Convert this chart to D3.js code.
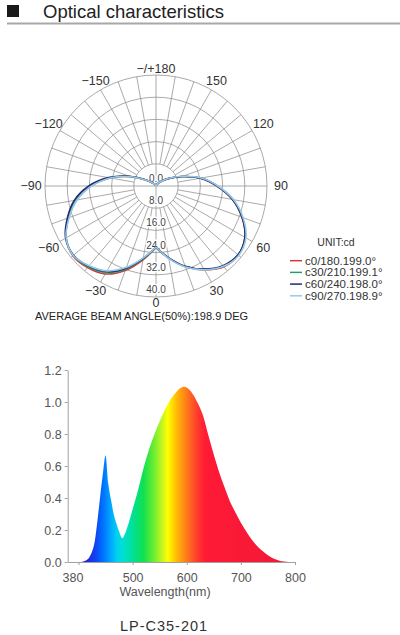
<!DOCTYPE html>
<html>
<head>
<meta charset="utf-8">
<script src="https://cdn.jsdelivr.net/npm/d3@7"></script>
<style>
  body { margin: 0; background: #fff; }
  svg { display: block; font-family: "Liberation Sans", Arial, sans-serif; }
</style>
</head>
<body>
<svg id="chart" width="400" height="635"></svg>
<script>
// ---- polar (light distribution) data, candela, angles -180..180 step 10
const angles = [-180, -170, -160, -150, -140, -130, -120, -110, -100, -90, -80, -70, -60, -50, -40, -30, -20, -10,
    0, 10, 20, 30, 40, 50, 60, 70, 80, 90, 100, 110, 120, 130, 140, 150, 160, 170, 180];

const c0 = [0, 0.05, 0.15, 0.4, 1, 2, 4.4, 9.8, 16.8, 23.4, 29.1, 33.5, 37.4, 39.1, 38.4, 36.6, 32.4, 27.0,
    22.2, 26.4, 31.0, 34.9, 38.0, 38.7, 37.0, 33.0, 28.0, 22.0, 16.3, 10.0, 5.5, 3, 1.5, 0.6, 0.2, 0.05, 0];
const c30 = [0, 0.05, 0.15, 0.4, 1, 2, 4.5, 10.0, 17.0, 23.6, 29.3, 33.6, 37.4, 38.9, 38.0, 36.0, 31.9, 26.7,
    22.1, 26.3, 30.9, 34.7, 37.7, 38.6, 37.1, 33.1, 28.1, 22.1, 16.4, 10.0, 5.5, 3, 1.5, 0.6, 0.2, 0.05, 0];
const c60 = [0, 0.05, 0.15, 0.4, 1, 2, 4.7, 10.3, 17.4, 24.2, 29.9, 34.0, 37.6, 38.8, 37.7, 35.6, 31.5, 26.5,
    22.0, 26.3, 30.8, 34.6, 37.5, 38.6, 37.0, 33.0, 28.0, 22.0, 16.3, 10.0, 5.5, 3, 1.5, 0.6, 0.2, 0.05, 0];
const c90 = [0, 0.05, 0.15, 0.4, 1, 2, 4.4, 9.8, 16.8, 23.2, 28.9, 33.3, 37.4, 38.9, 37.5, 35.3, 31.2, 26.3,
    22.0, 26.5, 31.1, 34.9, 37.8, 38.9, 37.4, 33.4, 28.4, 22.3, 16.6, 10.2, 5.6, 3, 1.5, 0.6, 0.2, 0.05, 0];

const seriesNames = ["c0/180.199.0°", "c30/210.199.1°", "c60/240.198.0°", "c90/270.198.9°"];
const seriesColors = ["#d63a3a", "#2e9a70", "#222a70", "#96c8e8"];
const seriesValues = [c0, c30, c60, c90];

const ringValues = [0, 8, 16, 24, 32, 40];
const angleLabels = [0, 30, 60, 90, 120, 150, 180, -150, -120, -90, -60, -30];

// ---- spectrum data
const wavelengths = [405, 410, 415, 420, 425, 430, 435, 440, 445, 450, 455, 460, 465, 470, 475, 481, 485, 490,
    500, 510, 520, 530, 540, 550, 560, 570, 580, 590, 595, 600, 610, 620, 630, 640, 650, 660, 670, 680, 690,
    700, 710, 720, 730, 740, 750, 760, 770, 780, 788];
const intensity = [0, 0.004, 0.012, 0.03, 0.065, 0.13, 0.26, 0.41, 0.55, 0.665, 0.49, 0.39, 0.30, 0.24, 0.19, 0.148, 0.17, 0.215,
    0.33, 0.45, 0.585, 0.70, 0.795, 0.88, 0.955, 1.015, 1.06, 1.09, 1.095, 1.09, 1.055, 0.995, 0.915, 0.79, 0.67, 0.56, 0.465, 0.377, 0.31,
    0.245, 0.19, 0.14, 0.10, 0.068, 0.042, 0.022, 0.01, 0.003, 0];
const yTicks = [0, 0.2, 0.4, 0.6, 0.8, 1.0, 1.2];
const xTicks = [400, 500, 600, 700, 800];
const xTickLabels = ["380", "500", "600", "700", "800"];

// spectral colour stops for the fill
const stopWl = [410, 430, 445, 460, 472, 485, 500, 520, 540, 555, 565, 578, 590, 605, 620, 635, 800];
const stopColors = ["#2a1fd0", "#1040f0", "#0070ff", "#00a8ff", "#00d4f0", "#00e0c8", "#00e098", "#10e050",
    "#70ee30", "#c8f520", "#ffff00", "#ffc800", "#ff9a10", "#ff6a20", "#ff3a2c", "#ff1a36", "#f01838"];

const svg = d3.select("#chart");
const defs = svg.append("defs");

// ---- header
svg.append("rect").attr("x", 7).attr("y", 5).attr("width", 12).attr("height", 12).attr("fill", "#1a1a1a");
svg.append("text")
    .attr("x", 43).attr("y", 17.5)
    .style("font-size", "18.5px")
    .attr("fill", "#222")
    .text("Optical characteristics");
svg.append("rect").attr("x", 7).attr("y", 22.5).attr("width", 393).attr("height", 2).attr("fill", "#a8a8a8");

// ---- polar chart
const cx = 156, cy = 186, R = 111;
const r = d3.scaleLinear().domain([0, 40]).range([0, R]);
const polar = svg.append("g").attr("transform", `translate(${cx},${cy})`);
const gridColor = "#8e8e8e";

// rings
polar.selectAll(".ring")
    .data(ringValues.slice(1))
    .enter()
    .append("circle")
    .attr("r", (d) => r(d))
    .attr("fill", "none")
    .attr("stroke", gridColor)
    .attr("stroke-width", 0.75);

// spokes every 10 deg, from inner ring outward (main axes through centre)
const spokes = d3.range(0, 360, 10);
polar.selectAll(".spoke")
    .data(spokes)
    .enter()
    .append("line")
    .attr("x1", (d) => (d % 90 === 0 ? 0 : r(8)) * Math.sin(d * Math.PI / 180))
    .attr("y1", (d) => (d % 90 === 0 ? 0 : r(8)) * Math.cos(d * Math.PI / 180))
    .attr("x2", (d) => R * Math.sin(d * Math.PI / 180))
    .attr("y2", (d) => R * Math.cos(d * Math.PI / 180))
    .attr("stroke", gridColor)
    .attr("stroke-width", 0.75);

// ring labels with white halo
polar.selectAll(".ring-label")
    .data(ringValues)
    .enter()
    .append("text")
    .attr("x", 0)
    .attr("y", (d) => r(d) - 4)
    .attr("text-anchor", "middle")
    .style("font-size", "10px")
    .attr("fill", "#444")
    .attr("stroke", "#fff")
    .attr("stroke-width", 3)
    .attr("paint-order", "stroke")
    .text((d) => d.toFixed(1));

// curves: draw each half separately so the cusps at 0 and 180 stay sharp
const radial = d3.lineRadial()
    .angle((d) => Math.PI - d.a * Math.PI / 180)
    .radius((d) => r(d.v))
    .curve(d3.curveCatmullRom);

seriesValues.forEach((vals, i) => {
    const pts = angles.map((a, j) => ({ a: a, v: vals[j] }));
    const left = pts.filter((d) => d.a <= 0);
    const right = pts.filter((d) => d.a >= 0);
    polar.append("path")
        .attr("d", radial(left) + radial(right))
        .attr("fill", "none")
        .attr("stroke", seriesColors[i])
        .attr("stroke-width", 1.6);
});

// angle labels
const labelRadius = (t) => R + 6 + 8 * Math.abs(Math.sin(t));
polar.selectAll(".angle-label")
    .data(angleLabels)
    .enter()
    .append("text")
    .attr("x", (d) => labelRadius(d * Math.PI / 180) * Math.sin(d * Math.PI / 180))
    .attr("y", (d) => labelRadius(d * Math.PI / 180) * Math.cos(d * Math.PI / 180))
    .attr("text-anchor", "middle")
    .attr("dominant-baseline", "central")
    .style("font-size", "12.5px")
    .attr("fill", "#333")
    .text((d) => (d === 180 ? "\u2212/+180" : d < 0 ? "\u2212" + Math.abs(d) : String(d)));

svg.append("text")
    .attr("x", 35).attr("y", 320)
    .style("font-size", "11px")
    .attr("fill", "#222")
    .text("AVERAGE BEAM ANGLE(50%):198.9 DEG");

// legend
svg.append("text")
    .attr("x", 336).attr("y", 246)
    .attr("text-anchor", "middle")
    .style("font-size", "10.5px")
    .attr("fill", "#333")
    .text("UNIT:cd");

const legend = svg.selectAll(".legend")
    .data(seriesNames)
    .enter()
    .append("g")
    .attr("transform", (d, i) => `translate(290,${260.7 + i * 11.7})`);
legend.append("line")
    .attr("x1", 0).attr("x2", 12)
    .attr("stroke", (d, i) => seriesColors[i])
    .attr("stroke-width", 1.5);
legend.append("text")
    .attr("x", 15).attr("y", 4)
    .style("font-size", "11.5px")
    .attr("fill", "#333")
    .text((d) => d);

// ---- spectrum chart
const x = d3.scaleLinear().domain([380, 800]).range([67.7, 295]);
const y = d3.scaleLinear().domain([0, 1.2]).range([562, 370]);

const grad = defs.append("linearGradient")
    .attr("id", "spectrum")
    .attr("gradientUnits", "userSpaceOnUse")
    .attr("x1", x(380)).attr("x2", x(800))
    .attr("y1", 0).attr("y2", 0);
grad.selectAll("stop")
    .data(stopWl)
    .enter()
    .append("stop")
    .attr("offset", (d) => (d - 380) / 420)
    .attr("stop-color", (d, i) => stopColors[i]);

const specData = wavelengths.map((w, i) => ({ w: w, v: intensity[i] }));
svg.append("path")
    .datum(specData)
    .attr("fill", "url(#spectrum)")
    .attr("d", d3.area()
        .x((d) => x(d.w))
        .y0(y(0))
        .y1((d) => y(d.v))
        .curve(d3.curveMonotoneX));

const axisColor = "#a0a0a0";
const xAxis = svg.append("g")
    .attr("transform", `translate(0,${y(0)})`)
    .call(d3.axisBottom(x).tickValues(xTicks).tickSize(3).tickSizeOuter(0)
        .tickFormat((d, i) => xTickLabels[i]));
xAxis.selectAll("text").style("font-size", "12.5px").attr("fill", "#555").attr("dy", "1.1em");
xAxis.select("text").attr("dx", "-6");

const yAxis = svg.append("g")
    .attr("transform", `translate(${x(380)},0)`)
    .call(d3.axisLeft(y).tickValues(yTicks).tickSize(3).tickSizeOuter(0)
        .tickFormat(d3.format(".1f")));
yAxis.selectAll("text").style("font-size", "12.5px").attr("fill", "#555");

[xAxis, yAxis].forEach((g) => {
    g.select(".domain").attr("stroke", axisColor);
    g.selectAll(".tick line").attr("stroke", axisColor);
    g.style("font-family", "'Liberation Sans', Arial, sans-serif");
});

svg.append("text")
    .attr("x", 165).attr("y", 596)
    .attr("text-anchor", "middle")
    .style("font-size", "12.5px")
    .attr("fill", "#555")
    .text("Wavelength(nm)");

svg.append("text")
    .attr("x", 164).attr("y", 631)
    .attr("text-anchor", "middle")
    .style("font-size", "14.5px")
    .style("letter-spacing", "1px")
    .attr("fill", "#333")
    .text("LP-C35-201");
</script>
</body>
</html>
